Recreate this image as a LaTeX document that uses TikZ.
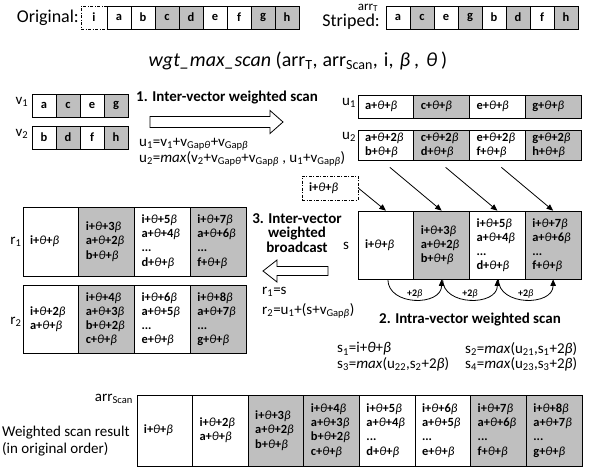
\documentclass[tikz,border=0pt]{standalone}
\usepackage{fontspec}
\setmainfont{Carlito}
\usetikzlibrary{arrows.meta,calc}
\definecolor{cellgray}{RGB}{191,191,191}
% Greek weights in italic, kept at medium weight even inside bold cells
\newcommand{\Th}{{\mdseries\itshape θ}}
\newcommand{\Be}{{\mdseries\itshape β}}
\newcommand{\sbs}[1]{\textsubscript{#1}}
\tikzset{
  bigtext/.style={inner sep=0pt, font=\fontsize{18}{20}\selectfont},
  lbl/.style={inner sep=0pt, font=\fontsize{15}{17}\selectfont},
  formula/.style={inner sep=0pt, anchor=west, font=\fontsize{15}{16}\selectfont},
  head/.style={inner sep=0pt, font=\bfseries\fontsize{15}{14.5}\selectfont},
  lcell/.style={draw, line width=0.7pt, minimum width=24pt, minimum height=23pt,
    inner sep=0pt, font=\bfseries\fontsize{12.5}{14}\selectfont},
  fcell/.style={draw, line width=0.7pt, minimum height=#1, inner xsep=7pt, inner ysep=0pt,
    text width=41.75pt, align=left, font=\bfseries\fontsize{12.5}{14.2}\selectfont},
  dashdot/.style={dash pattern=on 3pt off 1.5pt on 1pt off 1.5pt},
  conn/.style={line width=0.8pt, -{Triangle[length=6.5pt,width=5.5pt]}},
  hollow/.style={draw, line width=0.8pt, fill=white, line join=miter},
  plus/.style={inner sep=1pt, font=\bfseries\fontsize{10}{11}\selectfont}
}
\begin{document}
\begin{tikzpicture}[x=1pt,y=-1pt]
\useasboundingbox (0,0) rectangle (589,469);
\fill[white] (0,0) rectangle (589,469);

% ---- input arrays ----
\node[bigtext, anchor=east] (orig) at (79,18) {Original:};
\node[lcell, dashdot, minimum width=26pt] (oi) at (94,17.5) {i};
\foreach \t/\f [count=\k] in {a/white,b/white,c/cellgray,d/cellgray,e/white,f/white,g/cellgray,h/cellgray}
  \node[lcell, fill=\f] (o\k) at ({107+24*\k-12},17.5) {\t};
\node[bigtext, anchor=east] (strp) at (380,22) {Striped:};
\node[inner sep=0pt, anchor=base, text height=7pt, text depth=1pt,
  font=\fontsize{13}{14}\selectfont] (arrT) at (368,10) {arr\sbs{T}};
\foreach \t/\f [count=\k] in {a/white,c/cellgray,e/white,g/cellgray,b/white,d/cellgray,f/white,h/cellgray}
  \node[lcell, fill=\f] (p\k) at ({386+24*\k-12},17.5) {\t};

\node[inner sep=0pt, font=\fontsize{20}{22}\selectfont] (call) at (298,61)
  {\textit{wgt\_max\_scan} (arr\sbs{T},\hspace{5pt}arr\sbs{Scan},\hspace{6pt}i,\hspace{6pt}\Be\hspace{4pt},\hspace{7pt}\Th\hspace{4pt})};

% ---- step 1: inter-vector weighted scan ----
\node[lbl] (v1) at (22,102) {v\sbs{1}};
\foreach \t/\f [count=\k] in {a/white,c/cellgray,e/white,g/cellgray}
  \node[lcell, fill=\f] (va\k) at ({32+24*\k-12},105.5) {\t};
\node[lbl] (v2) at (22,134) {v\sbs{2}};
\foreach \t/\f [count=\k] in {b/white,d/cellgray,f/white,h/cellgray}
  \node[lcell, fill=\f] (vb\k) at ({32+24*\k-12},137.5) {\t};

\node[head, anchor=west] (h1) at (136,98) {1. Inter-vector weighted scan};
% hollow block arrow pointing right
\draw[hollow] (150,116.5) -- (270,116.5) -- (270,110.5) -- (283,122)
  -- (270,133.5) -- (270,127.5) -- (150,127.5) -- cycle;
\node[formula] (fu1) at (139,144) {u\sbs{1}=v\sbs{1}+v\sbs{Gap\Th}+v\sbs{Gap\Be}};
\node[formula] (fu2) at (139,159) {u\sbs{2}=\textit{max}(v\sbs{2}+v\sbs{Gap\Th}+v\sbs{Gap\Be} , u\sbs{1}+v\sbs{Gap\Be})};

\node[lbl] (u1) at (349,103) {u\sbs{1}};
\foreach \t/\f [count=\k] in {a/white,c/cellgray,e/white,g/cellgray}
  \node[fcell=23pt, fill=\f] (ua\k) at ({358+55.75*\k-27.875},106.5) {\t+\Th+\Be};
\node[lbl] (u2) at (349,137) {u\sbs{2}};
\foreach \ta/\tb/\f [count=\k] in {a/b/white,c/d/cellgray,e/f/white,g/h/cellgray}
  \node[fcell=30pt, fill=\f] (ub\k) at ({358+55.75*\k-27.875},145) {\ta+\Th+2\Be\\\tb+\Th+\Be};

% ---- step 2: intra-vector weighted scan ----
\node[fcell=24pt, dashdot, fill=white] (ibox) at (330,188) {i+\Th+\Be};
\node[lbl] (slbl) at (346,246) {s};
\node[fcell=68pt, fill=white] (sc1) at (385.875,245) {i+\Th+\Be};
\node[fcell=68pt, fill=cellgray] (sc2) at (441.625,245) {i+\Th+3\Be\\a+\Th+2\Be\\b+\Th+\Be};
\node[fcell=68pt, fill=white] (sc3) at (497.375,245) {i+\Th+5\Be\\a+\Th+4\Be\\...\\d+\Th+\Be};
\node[fcell=68pt, fill=cellgray] (sc4) at (553.125,245) {i+\Th+7\Be\\a+\Th+6\Be\\...\\f+\Th+\Be};

\draw[conn] (ibox.east) -- (sc1.north);
\draw[conn] ($(ub1.south)+(4,7)$) -- (sc2.north);
\draw[conn] ($(ub2.south)+(4,7)$) -- (sc3.north);
\draw[conn] ($(ub3.south)+(4,7)$) -- (sc4.north);

\draw[conn] ($(sc1.south)+(2,0)$) .. controls +(0,27) and +(0,27) .. node[plus, above] (pl1) {+2\Be} (sc2.south);
\draw[conn] ($(sc2.south)+(1,0)$) .. controls +(0,27) and +(0,27) .. node[plus, above] (pl2) {+2\Be} (sc3.south);
\draw[conn] ($(sc3.south)+(1,0)$) .. controls +(0,27) and +(0,27) .. node[plus, above] (pl3) {+2\Be} (sc4.south);

\node[head] (h2) at (470,320) {2. Intra-vector weighted scan};
\node[formula] (fs1) at (337,349) {s\sbs{1}=i+\Th+\Be};
\node[formula] (fs2) at (465,349) {s\sbs{2}=\textit{max}(u\sbs{21},s\sbs{1}+2\Be)};
\node[formula] (fs3) at (337,364) {s\sbs{3}=\textit{max}(u\sbs{22},s\sbs{2}+2\Be)};
\node[formula] (fs4) at (465,364) {s\sbs{4}=\textit{max}(u\sbs{23},s\sbs{3}+2\Be)};

% ---- step 3: inter-vector weighted broadcast ----
\node[head, align=center] (h3) at (297,233) {3. Inter-vector\\weighted\\broadcast};
% hollow block arrow pointing left
\draw[hollow] (328,266.5) -- (277,266.5) -- (277,260) -- (263,271)
  -- (277,282) -- (277,275.5) -- (328,275.5) -- cycle;
\node[formula] (fr1) at (262,292) {r\sbs{1}=s};
\node[formula] (fr2) at (262,311) {r\sbs{2}=u\sbs{1}+(s+v\sbs{Gap\Be})};

\node[lbl] (r1) at (16,242) {r\sbs{1}};
\node[fcell=69pt, fill=white] (ra1) at (50.875,241.5) {i+\Th+\Be};
\node[fcell=69pt, fill=cellgray] (ra2) at (106.625,241.5) {i+\Th+3\Be\\a+\Th+2\Be\\b+\Th+\Be};
\node[fcell=69pt, fill=white] (ra3) at (162.375,241.5) {i+\Th+5\Be\\a+\Th+4\Be\\...\\d+\Th+\Be};
\node[fcell=69pt, fill=cellgray] (ra4) at (218.125,241.5) {i+\Th+7\Be\\a+\Th+6\Be\\...\\f+\Th+\Be};

\node[lbl] (r2) at (16,322) {r\sbs{2}};
\node[fcell=68pt, fill=white] (rb1) at (50.875,319) {i+\Th+2\Be\\a+\Th+\Be};
\node[fcell=68pt, fill=cellgray] (rb2) at (106.625,319) {i+\Th+4\Be\\a+\Th+3\Be\\b+\Th+2\Be\\c+\Th+\Be};
\node[fcell=68pt, fill=white] (rb3) at (162.375,319) {i+\Th+6\Be\\a+\Th+5\Be\\...\\e+\Th+\Be};
\node[fcell=68pt, fill=cellgray] (rb4) at (218.125,319) {i+\Th+8\Be\\a+\Th+7\Be\\...\\g+\Th+\Be};

% ---- final result ----
\node[lbl, anchor=east] (arrS) at (133,399) {arr\sbs{Scan}};
\node[lbl, anchor=west, align=left] (res) at (2,441) {Weighted scan result\\(in original order)};
\node[fcell=71pt, fill=white] (q1) at (164.8,430.5) {i+\Th+\Be};
\node[fcell=71pt, fill=white] (q2) at (220.4,430.5) {i+\Th+2\Be\\a+\Th+\Be};
\node[fcell=71pt, fill=cellgray] (q3) at (276.1,430.5) {i+\Th+3\Be\\a+\Th+2\Be\\b+\Th+\Be};
\node[fcell=71pt, fill=cellgray] (q4) at (331.7,430.5) {i+\Th+4\Be\\a+\Th+3\Be\\b+\Th+2\Be\\c+\Th+\Be};
\node[fcell=71pt, fill=white] (q5) at (387.3,430.5) {i+\Th+5\Be\\a+\Th+4\Be\\...\\d+\Th+\Be};
\node[fcell=71pt, fill=white] (q6) at (442.9,430.5) {i+\Th+6\Be\\a+\Th+5\Be\\...\\e+\Th+\Be};
\node[fcell=71pt, fill=cellgray] (q7) at (498.6,430.5) {i+\Th+7\Be\\a+\Th+6\Be\\...\\f+\Th+\Be};
\node[fcell=71pt, fill=cellgray] (q8) at (554.2,430.5) {i+\Th+8\Be\\a+\Th+7\Be\\...\\g+\Th+\Be};
\end{tikzpicture}
\end{document}
